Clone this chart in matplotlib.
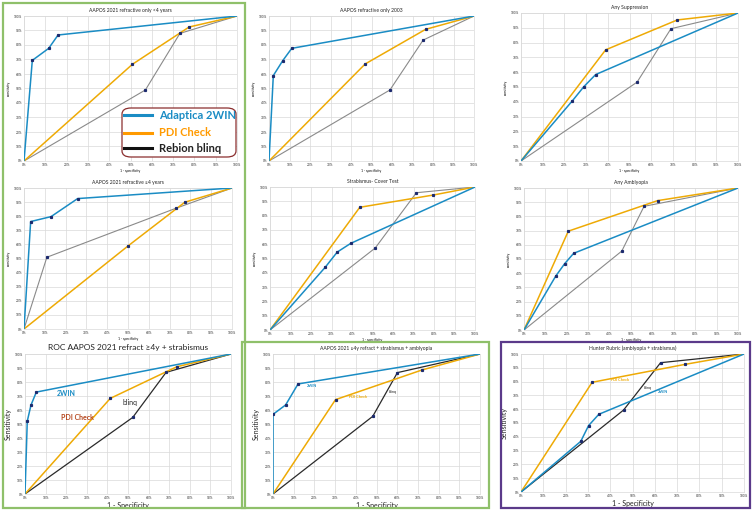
import matplotlib
matplotlib.use('Agg')
import matplotlib.pyplot as plt
from matplotlib.patches import Rectangle, FancyBboxPatch
from matplotlib.lines import Line2D

plt.rcParams['font.family'] = ['Lato', 'DejaVu Sans']

W, H = 753, 511

titles = ['AAPOS 2021 refractive only <4 years',
          'AAPOS refractive only 2003',
          'Any Suppression',
          'AAPOS 2021 refractive \u22654 years',
          'Strabismus- Cover Test',
          'Any Amblyopia',
          'ROC AAPOS 2021 refract \u22654y + strabismus',
          'AAPOS 2021 \u22654y refract + strabismus + amblyopia',
          'Hunter Rubric (amblyopia + strabismus)']

# 1 - specificity / sensitivity in %, one list per panel
twin_fpr = [[0, 3.9, 11.6, 16.0, 100],
            [0, 2.1, 6.7, 11.1, 100],
            [0, 23.7, 29.0, 34.4, 100],
            [0, 3.2, 13.0, 25.8, 100],
            [0, 26.9, 32.8, 39.4, 100],
            [0, 14.8, 19.0, 23.2, 100],
            [0, 1.1, 2.9, 5.5, 100],
            [0, 0, 6.1, 12.1, 100],
            [0, 26.8, 30.3, 34.9, 100]]
twin_tpr = [[0, 69.4, 77.7, 86.9, 100],
            [0, 58.9, 69.2, 77.7, 100],
            [0, 40.7, 50.3, 58.4, 100],
            [0, 76.2, 79.7, 92.5, 100],
            [0, 43.8, 54.5, 60.6, 100],
            [0, 37.9, 46.7, 54.0, 100],
            [0, 52.0, 63.5, 72.8, 100],
            [0, 56.9, 63.6, 78.6, 100],
            [0, 36.7, 48.1, 56.3, 100]]

pdi_fpr = [[0, 50.9, 77.5, 100],
           [0, 46.9, 76.4, 100],
           [0, 39.0, 72.0, 100],
           [0, 50.1, 77.3, 100],
           [0, 43.8, 79.7, 100],
           [0, 20.7, 62.4, 100],
           [0, 41.4, 73.7, 100],
           [0, 30.2, 72.0, 100],
           [0, 31.9, 73.6, 100]]
pdi_tpr = [[0, 66.7, 92.4, 100],
           [0, 66.9, 90.8, 100],
           [0, 75.1, 95.3, 100],
           [0, 59.0, 89.9, 100],
           [0, 85.8, 94.4, 100],
           [0, 69.6, 91.1, 100],
           [0, 68.3, 90.9, 100],
           [0, 67.4, 88.6, 100],
           [0, 79.5, 92.5, 100]]

blinq_fpr = [[0, 57.0, 73.2, 100],
             [0, 59.0, 75.2, 100],
             [0, 53.5, 69.1, 100],
             [0, 11.0, 73.0, 100],
             [0, 51.3, 71.4, 100],
             [0, 45.7, 56.1, 100],
             [0, 52.3, 68.5, 100],
             [0, 48.2, 60.1, 100],
             [0, 46.0, 62.6, 100]]
blinq_tpr = [[0, 49.0, 88.0, 100],
             [0, 49.0, 83.4, 100],
             [0, 53.3, 89.4, 100],
             [0, 50.9, 85.6, 100],
             [0, 57.3, 96.0, 100],
             [0, 55.6, 87.1, 100],
             [0, 54.7, 86.9, 100],
             [0, 55.5, 86.7, 100],
             [0, 59.4, 93.7, 100]]

ticks = list(range(0, 101, 10))
tick_labels = [str(t) + '%' for t in ticks]

# axes boxes in pixels: x0, x1, y0, y1
boxes = [(24, 237, 16, 161), (269, 474, 16, 161), (521, 738, 13, 161),
         (24, 232, 188, 329), (270, 475, 187, 330), (524, 738, 188, 330),
         (25, 231, 354, 494), (273, 480, 354, 494), (521, 744, 354, 492)]

BLUE = '#1a8cc4'
ORANGE = '#eeaa05'
GRAY = '#8a8a8a'
BLACK = '#2a2a2a'
MARK = '#1c2a6e'

fig = plt.figure(figsize=(W / 100, H / 100), dpi=100)

def px_axes(x0, x1, y0, y1):
    return fig.add_axes([x0 / W, 1 - y1 / H, (x1 - x0) / W, (y1 - y0) / H])

def draw_line(ax, xs, ys, col, lw):
    ax.plot(xs, ys, color=col, lw=lw, zorder=3)
    ax.plot(xs[1:-1], ys[1:-1], ls='none', marker='s', ms=1.3, color=MARK, zorder=4)

for i in range(9):
    ax = px_axes(*boxes[i])
    bottom = i >= 6
    third = BLACK if bottom else GRAY
    draw_line(ax, blinq_fpr[i], blinq_tpr[i], third, 0.8 if not bottom else 0.9)
    draw_line(ax, pdi_fpr[i], pdi_tpr[i], ORANGE, 1.1)
    draw_line(ax, twin_fpr[i], twin_tpr[i], BLUE, 1.1)
    ax.set_xlim(0, 100)
    ax.set_ylim(0, 100)
    ax.set_xticks(ticks)
    ax.set_yticks(ticks)
    ax.set_xticklabels(tick_labels, fontsize=2.3, color='#333333')
    ax.set_yticklabels(tick_labels, fontsize=2.3, color='#333333')
    ax.tick_params(length=0, pad=1.5)
    ax.grid(True, color='#d9d9d9', lw=0.5)
    ax.set_axisbelow(True)
    for s in ax.spines.values():
        s.set_color('#d9d9d9')
        s.set_linewidth(0.5)
    if i == 6:
        ax.set_title(titles[i], fontsize=6, pad=3, color='#222222')
    else:
        ax.set_title(titles[i], fontsize=3.6, pad=3, color='#222222')
    if bottom:
        ax.set_xlabel('1 - Specificity', fontsize=5, labelpad=1.5, color='#222222')
        ax.set_ylabel('Sensitivity', fontsize=5, labelpad=2, color='#222222')
    else:
        ax.set_xlabel('1 - specificity', fontsize=2.4, labelpad=1.5)
        ax.set_ylabel('sensitivity', fontsize=2.4, labelpad=2)

    if i == 6:
        ax.text(20, 72, '2WIN', color=BLUE, fontsize=5, weight='bold', ha='center', va='center')
        ax.text(25.5, 55, 'PDI Check', color='#b5451b', fontsize=5, weight='bold', ha='center', va='center')
        ax.text(51, 65, 'blinq', color=BLACK, fontsize=5, ha='center', va='center')
    if i == 7:
        ax.text(19, 77, '2WIN', color=BLUE, fontsize=2.8, weight='bold', ha='center', va='center')
        ax.text(41, 69, 'PDI Check', color=ORANGE, fontsize=2.8, weight='bold', ha='center', va='center')
        ax.text(58, 73, 'blinq', color=BLACK, fontsize=2.8, ha='center', va='center')
    if i == 8:
        ax.text(44.5, 81, 'PDI Check', color=ORANGE, fontsize=2.8, weight='bold', ha='center', va='center')
        ax.text(57, 75.5, 'blinq', color=BLACK, fontsize=2.8, ha='center', va='center')
        ax.text(63.5, 72.5, '2WIN', color=BLUE, fontsize=2.8, weight='bold', ha='center', va='center')

# panel frames drawn in figure pixels
def frame(x0, y0, x1, y1, col, lw):
    fig.patches.append(Rectangle((x0 / W, 1 - y1 / H), (x1 - x0) / W, (y1 - y0) / H,
                                 transform=fig.transFigure, fill=False,
                                 edgecolor=col, lw=lw, zorder=10))

frame(3, 3, 245, 508, '#8fc06a', 1.6)
frame(242, 342, 489, 508, '#8fc06a', 1.6)
frame(501, 342, 750, 508, '#5b3a8a', 1.6)

# legend box
lx0, lx1, ly0, ly1 = 122, 236, 108, 157
fig.patches.append(FancyBboxPatch((lx0 / W, 1 - ly1 / H), (lx1 - lx0) / W, (ly1 - ly0) / H,
                                  boxstyle='round,pad=0,rounding_size=0.012',
                                  transform=fig.transFigure, facecolor='white',
                                  edgecolor='#8b2e2e', lw=0.9, zorder=11))
leg_names = ['Adaptica 2WIN', 'PDI Check', 'Rebion blinq']
leg_cols = [BLUE, '#ff9a00', '#111111']
leg_y = [115, 133, 148]
for name, col, yy in zip(leg_names, leg_cols, leg_y):
    fig.lines.append(Line2D([124 / W, 152 / W], [1 - yy / H, 1 - yy / H], transform=fig.transFigure,
                            color=col, lw=2.2, zorder=12))
    fig.text(159 / W, 1 - yy / H, name, color=col if col != '#111111' else '#222222',
             fontsize=8, weight='bold', va='center', ha='left', zorder=12)

fig.savefig('out.png', dpi=100)
